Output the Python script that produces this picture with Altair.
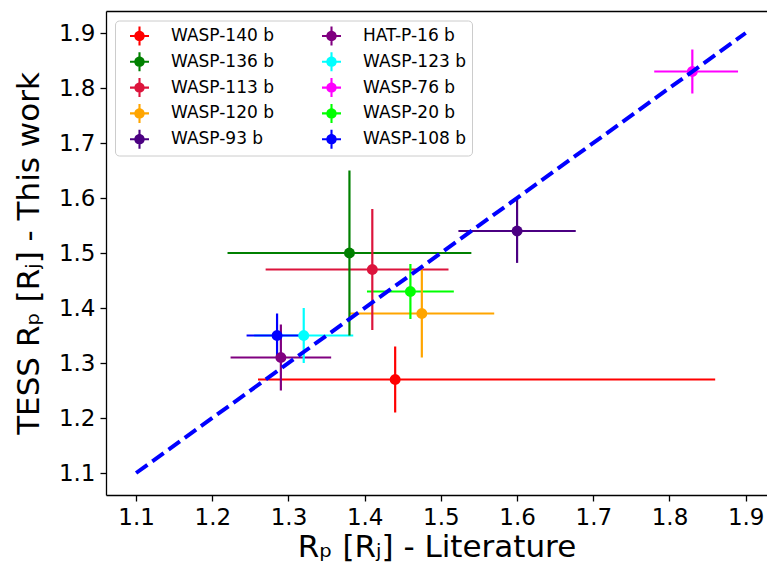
import altair as alt
import pandas as pd

names = ["WASP-140 b", "WASP-136 b", "WASP-113 b", "WASP-120 b", "WASP-93 b",
         "HAT-P-16 b", "WASP-123 b", "WASP-76 b", "WASP-20 b", "WASP-108 b"]
colors = ["#ff0000", "#008000", "#dc143c", "#ffa500", "#4b0082",
          "#800080", "#00ffff", "#ff00ff", "#00ff00", "#0000ff"]
x_lit = [1.44, 1.38, 1.41, 1.475, 1.60, 1.29, 1.32, 1.83, 1.46, 1.285]
x_err_lo = [0.18, 0.16, 0.14, 0.095, 0.077, 0.066, 0.065, 0.05, 0.057, 0.04]
x_err_hi = [0.42, 0.16, 0.10, 0.095, 0.077, 0.066, 0.065, 0.06, 0.057, 0.04]
y_tess = [1.27, 1.50, 1.47, 1.39, 1.54, 1.31, 1.35, 1.83, 1.43, 1.35]
y_err_lo = [0.06, 0.15, 0.11, 0.08, 0.058, 0.06, 0.05, 0.04, 0.05, 0.04]
y_err_hi = [0.06, 0.15, 0.11, 0.08, 0.058, 0.06, 0.05, 0.04, 0.05, 0.04]
line_x = [1.1, 1.9]
line_y = [1.1, 1.9]
tick_values = [1.1, 1.2, 1.3, 1.4, 1.5, 1.6, 1.7, 1.8, 1.9]

df = pd.DataFrame({
    "name": names,
    "hex": colors,
    "x": x_lit,
    "y": y_tess,
})
df["x1"] = [a - b for a, b in zip(x_lit, x_err_lo)]
df["x2"] = [a + b for a, b in zip(x_lit, x_err_hi)]
df["y1"] = [a - b for a, b in zip(y_tess, y_err_lo)]
df["y2"] = [a + b for a, b in zip(y_tess, y_err_hi)]
line_df = pd.DataFrame({"x": line_x, "y": line_y})

FONT = "DejaVu Sans"
xs = alt.Scale(domain=[1.0605, 1.928], nice=False, zero=False)
ys = alt.Scale(domain=[1.06, 1.94], nice=False, zero=False)
cs = alt.Scale(domain=names, range=colors)

x_axis = alt.Axis(values=tick_values, format=".1f", grid=False,
                  title="Rₚ [Rⱼ] - Literature", titleFontSize=31,
                  titleFontWeight="normal", titleFont=FONT, titleColor="black",
                  titlePadding=3,
                  labelFontSize=23, labelFont=FONT, labelColor="black",
                  labelPadding=5, tickSize=6, tickWidth=1.3, tickColor="black",
                  domainColor="black", domainWidth=1.3)
y_axis = alt.Axis(values=tick_values, format=".1f", grid=False,
                  title="TESS\u00a0Rₚ\u00a0[Rⱼ]\u00a0-\u00a0This\u00a0work",
                  titleFontSize=31,
                  titleFontWeight="normal", titleFont=FONT, titleColor="black",
                  titlePadding=13,
                  labelFontSize=23, labelFont=FONT, labelColor="black",
                  labelPadding=5, tickSize=6, tickWidth=1.3, tickColor="black",
                  domainColor="black", domainWidth=1.3)

# errorbar-style legend glyph: filled horizontal bar, vertical bar and dot
glyph = ("M-1,-0.11H1V0.11H-1Z"
         "M-0.11,-1H0.11V1H-0.11Z"
         "M0.55,0A0.55,0.55,0,1,1,-0.55,0A0.55,0.55,0,1,1,0.55,0Z")

legend = alt.Legend(
    title=None, orient="none", legendX=9, legendY=9.5, columns=2,
    symbolType=glyph, symbolSize=361, symbolStrokeWidth=0, symbolOffset=9,
    symbolOpacity=1,
    labelFontSize=17, labelFont=FONT, labelColor="black", labelOffset=22,
    rowPadding=6.8, columnPadding=39, padding=6,
    strokeColor="#cccccc", cornerRadius=4, fillColor="white",
)

base = alt.Chart(df)
hbars = base.mark_rule(strokeWidth=2.2).encode(
    x=alt.X("x1:Q", scale=xs, axis=x_axis), x2="x2:Q",
    y=alt.Y("y:Q", scale=ys, axis=y_axis),
    color=alt.Color("hex:N", scale=None),
)
vbars = base.mark_rule(strokeWidth=2.2).encode(
    x=alt.X("x:Q", scale=xs, axis=None),
    y=alt.Y("y1:Q", scale=ys, axis=y_axis), y2="y2:Q",
    color=alt.Color("hex:N", scale=None),
)
points = base.mark_circle(size=120, opacity=1).encode(
    x=alt.X("x:Q", scale=xs, axis=None),
    y=alt.Y("y:Q", scale=ys, axis=y_axis),
    color=alt.Color("name:N", scale=cs, legend=legend),
)
diag = alt.Chart(line_df).mark_line(color="#0000ff", strokeWidth=4,
                                    strokeDash=[14, 6]).encode(
    x=alt.X("x:Q", scale=xs,
            axis=alt.Axis(orient="top", labels=False, ticks=False, title=None,
                          grid=False, domainColor="black", domainWidth=1.3)),
    y=alt.Y("y:Q", scale=ys, axis=y_axis),
)

chart = alt.layer(hbars, vbars, points, diag).resolve_axis(
    x="independent"
).properties(
    width=661, height=484,
    autosize=alt.AutoSizeParams(type="none"),
    padding={"left": 106, "top": 11, "right": 0, "bottom": 75},
    background="white",
).configure_view(stroke=None)

chart.save("out.html", embed_options={"renderer": "svg", "actions": False})
